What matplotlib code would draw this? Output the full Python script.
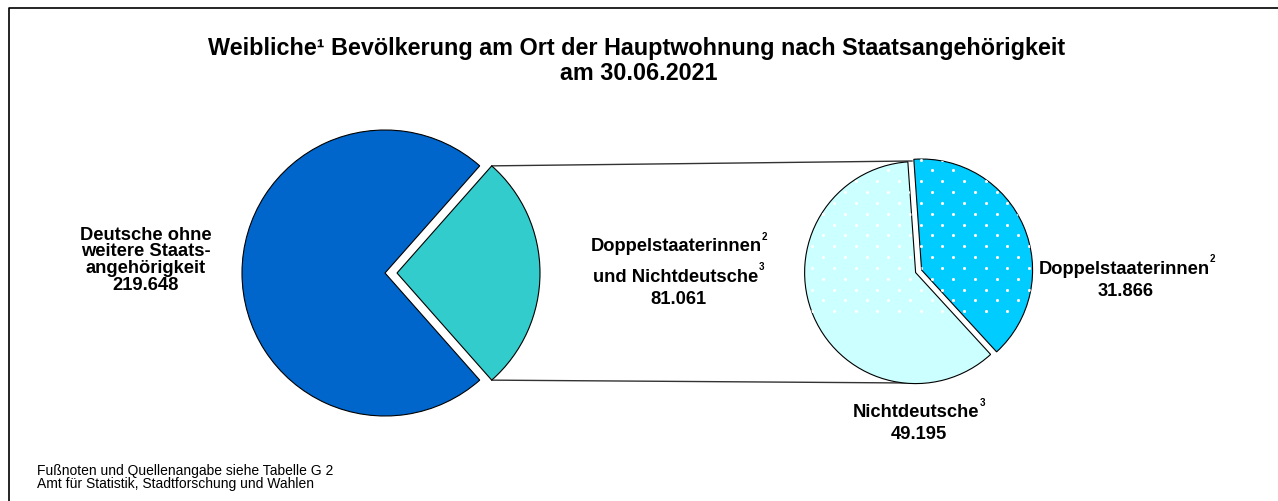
import numpy as np
import matplotlib
matplotlib.use("Agg")
import matplotlib.pyplot as plt

plt.rcParams["font.family"] = ["Liberation Sans", "DejaVu Sans"]

# data
main_labels = ["Deutsche ohne weitere Staatsangehörigkeit", "Doppelstaaterinnen und Nichtdeutsche"]
main_values = [219648, 81061]
sub_labels = ["Doppelstaaterinnen", "Nichtdeutsche"]
sub_values = [31866, 49195]

main_colors = ["#0066CC", "#33CCCC"]
sub_colors = ["#00CCFF", "#CCFFFF"]

W, H = 1278, 502
fig = plt.figure(figsize=(W / 100, H / 100), dpi=100)
ax = fig.add_axes([0, 0, 1, 1])


def py(y):
    # pixel row -> data y (y axis points up)
    return H - y


def fmt(v):
    return f"{v:,}".replace(",", ".")


# left pie: second slice centred on 0 degrees (explode is in data units here)
frac = main_values[1] / sum(main_values)
lw = 0.8
left_c, left_r = (385, py(274)), 143
wl, _ = ax.pie(main_values, colors=main_colors, startangle=180 * frac, counterclock=True,
               explode=[0, 12], center=left_c, radius=left_r,
               wedgeprops=dict(edgecolor="black", linewidth=lw))

# right pie
right_c, right_r = (917, py(273)), 111
wr, _ = ax.pie(sub_values, colors=sub_colors, startangle=-47.5, counterclock=True,
               explode=[5, 1.5], center=right_c, radius=right_r,
               wedgeprops=dict(edgecolor="black", linewidth=lw))

# white dot pattern on the right pie
gx, gy = [], []
dx, dy = 21.67, 10.83
for i in range(-12, 13):
    yy = py(182.3) - i * dy
    off = 0 if i % 2 == 0 else dx / 2
    xs = np.arange(-6, 7) * dx + 920.7 + off
    gx.extend(xs)
    gy.extend([yy] * len(xs))
for w in wr:
    sc = ax.scatter(gx, gy, s=5, color="white", linewidths=0, zorder=3)
    sc.set_clip_path(w)

# connector lines
t = wl[1]
cx, cy = t.center
a1, a2 = np.deg2rad(t.theta1), np.deg2rad(t.theta2)
top = (cx + t.r * np.cos(a2), cy + t.r * np.sin(a2))
bot = (cx + t.r * np.cos(a1), cy + t.r * np.sin(a1))
ax.plot([top[0], right_c[0] - 5], [top[1], right_c[1] + right_r], color="#333333", lw=1.0, zorder=0)
ax.plot([bot[0], right_c[0] - 7], [bot[1], right_c[1] - right_r], color="#333333", lw=1.0, zorder=0)

# frame (left and top only visible)
ax.plot([9, 9, W], [0, py(9), py(9)], color="black", lw=1.2, clip_on=False)

# title
ax.text(637, py(48), "Weibliche¹ Bevölkerung am Ort der Hauptwohnung nach Staatsangehörigkeit",
        ha="center", va="center", fontsize=16.8, fontweight="bold")
ax.text(639, py(73), "am 30.06.2021", ha="center", va="center", fontsize=16.8, fontweight="bold")

fs = 13.2
lab = dict(ha="center", va="center", fontsize=fs, fontweight="bold")


def sup(txt, s):
    ax.annotate(s, xy=(1.0, 1.1), xycoords=txt, ha="left", va="center",
                fontsize=7, fontweight="bold")


left_lines = ["Deutsche ohne", "weitere Staats-", "angehörigkeit", fmt(main_values[0])]
for k, line in enumerate(left_lines):
    ax.text(146, py(235 + 16.8 * k), line, **lab)

t1 = ax.text(676, py(247), "Doppelstaaterinnen", **lab)
sup(t1, "2")
t2 = ax.text(676, py(277), "und Nichtdeutsche", **lab)
sup(t2, "3")
ax.text(678, py(299), fmt(main_values[1]), **lab)

t3 = ax.text(1124, py(269), sub_labels[0], **lab)
sup(t3, "2")
ax.text(1126, py(291), fmt(sub_values[0]), **lab)

t4 = ax.text(916, py(413), sub_labels[1], **lab)
sup(t4, "3")
ax.text(919, py(435), fmt(sub_values[1]), **lab)

# footnotes
ax.text(37, py(471), "Fußnoten und Quellenangabe siehe Tabelle G 2", ha="left", va="center", fontsize=10)
ax.text(37, py(484), "Amt für Statistik, Stadtforschung und Wahlen", ha="left", va="center", fontsize=10)

ax.set_xlim(0, W)
ax.set_ylim(0, H)
ax.set_aspect("auto")
ax.axis("off")

fig.savefig("out.png", dpi=100)
